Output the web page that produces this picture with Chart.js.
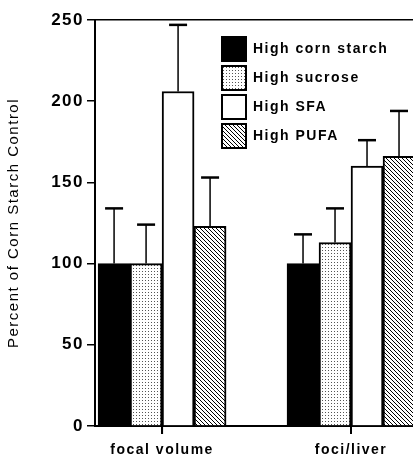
<!DOCTYPE html>
<html>
<head>
<meta charset="utf-8">
<script src="https://cdn.jsdelivr.net/npm/chart.js@4.4.1/dist/chart.umd.min.js"></script>
<style>
  html, body { margin: 0; padding: 0; background: #fff; overflow: hidden; }
</style>
</head>
<body>
<canvas id="dietChart" width="413" height="456"></canvas>
<script>
// === Data ===
const categories = ["focal volume", "foci/liver"];
const seriesNames = ["High corn starch", "High sucrose", "High SFA", "High PUFA"];

const cornStarch = [100, 100];
const cornStarchErr = [34, 18];
const sucrose = [100, 113];
const sucroseErr = [24, 21];
const sfa = [206, 160];
const sfaErr = [41, 16];
const pufa = [123, 166];
const pufaErr = [30, 28];

const yTicks = [0, 50, 100, 150, 200, 250];

// === Fill patterns ===
function dotPattern() {
  const c = document.createElement("canvas");
  c.width = 3; c.height = 3;
  const g = c.getContext("2d");
  g.fillStyle = "#fff";
  g.fillRect(0, 0, 3, 3);
  g.fillStyle = "#555";
  g.fillRect(1, 1, 1, 1);
  return g.createPattern(c, "repeat");
}

function hatchPattern() {
  const c = document.createElement("canvas");
  c.width = 4; c.height = 4;
  const g = c.getContext("2d");
  g.fillStyle = "#fff";
  g.fillRect(0, 0, 4, 4);
  g.strokeStyle = "#000";
  g.lineWidth = 1;
  g.beginPath();
  g.moveTo(-1, -1); g.lineTo(5, 5);
  g.moveTo(-1, 3); g.lineTo(1, 5);
  g.moveTo(3, -1); g.lineTo(5, 1);
  g.stroke();
  return g.createPattern(c, "repeat");
}

const toPoints = arr => arr.map((v, i) => ({ x: i, y: v }));

// === Plugins ===
// wide tracking like the original typesetting
const tracking = {
  id: "tracking",
  beforeLayout(chart) { chart.ctx.letterSpacing = "1.5px"; },
  beforeDraw(chart) { chart.ctx.letterSpacing = "1.5px"; }
};

// move the legend into the upper right of the plot
const legendSpot = {
  id: "legendSpot",
  afterLayout(chart) {
    const lg = chart.legend;
    if (!lg) return;
    const area = chart.chartArea;
    lg.left = area.left + 122;
    lg.top = area.top + 12;
    lg.bottom = area.bottom;
  }
};

// upper error bars, plus the category tick marks below the x axis
const errorBars = {
  id: "errorBars",
  afterDatasetsDraw(chart) {
    const ctx = chart.ctx;
    const yScale = chart.scales.y;
    const xScale = chart.scales.x;
    ctx.save();
    ctx.strokeStyle = "#000";
    chart.data.datasets.forEach((ds, i) => {
      const meta = chart.getDatasetMeta(i);
      meta.data.forEach((bar, j) => {
        const top = yScale.getPixelForValue(ds.data[j].y + ds.errors[j]);
        ctx.lineWidth = 1.5;
        ctx.beginPath();
        ctx.moveTo(bar.x, bar.y);
        ctx.lineTo(bar.x, top);
        ctx.stroke();
        ctx.lineWidth = 2.5;
        ctx.beginPath();
        ctx.moveTo(bar.x - 9, top);
        ctx.lineTo(bar.x + 9, top);
        ctx.stroke();
      });
    });
    ctx.lineWidth = 2;
    xScale.ticks.forEach((t, i) => {
      const px = xScale.getPixelForTick(i);
      ctx.beginPath();
      ctx.moveTo(px, xScale.top);
      ctx.lineTo(px, xScale.top + 8);
      ctx.stroke();
    });
    ctx.restore();
  }
};

Chart.defaults.font.family = "'Liberation Sans', Arial, sans-serif";
Chart.defaults.color = "#000";

const xMin = -0.355;
const xMax = 1.328;

const ctx = document.getElementById("dietChart").getContext("2d");
const chart = new Chart(ctx, {
  type: "bar",
  data: {
    datasets: [
      { label: seriesNames[0], data: toPoints(cornStarch), errors: cornStarchErr, backgroundColor: "#000" },
      { label: seriesNames[1], data: toPoints(sucrose), errors: sucroseErr, backgroundColor: dotPattern() },
      { label: seriesNames[2], data: toPoints(sfa), errors: sfaErr, backgroundColor: "#fff" },
      { label: seriesNames[3], data: toPoints(pufa), errors: pufaErr, backgroundColor: hatchPattern() }
    ]
  },
  options: {
    responsive: false,
    animation: false,
    layout: { padding: { top: 20, left: 0, right: 0, bottom: 0 } },
    datasets: {
      bar: { barThickness: 32, borderColor: "#000", borderWidth: 2 }
    },
    plugins: {
      tooltip: { enabled: false },
      legend: {
        position: "chartArea",
        align: "start",
        labels: {
          boxWidth: 24,
          boxHeight: 24,
          padding: 5,
          color: "#000",
          font: { size: 14, weight: "bold" }
        }
      }
    },
    scales: {
      x: {
        type: "linear",
        offset: false,
        min: xMin,
        max: xMax,
        afterBuildTicks: axis => { axis.ticks = categories.map((c, i) => ({ value: i })); },
        afterFit: axis => { axis.height = 30; },
        ticks: {
          callback: v => categories[v],
          autoSkip: false,
          maxRotation: 0,
          padding: 8,
          font: { size: 14, weight: "bold" }
        },
        grid: { offset: false, drawOnChartArea: false, drawTicks: true, tickLength: 8, color: "#000", tickColor: "#000", tickWidth: 2, lineWidth: 2 },
        border: { color: "#000", width: 2 }
      },
      x2: {
        type: "linear",
        position: "top",
        offset: false,
        min: xMin,
        max: xMax,
        ticks: { display: false },
        grid: { display: false, drawTicks: false },
        border: { display: true, color: "#000", width: 1.5 }
      },
      y: {
        min: 0,
        max: 250,
        afterBuildTicks: axis => { axis.ticks = yTicks.map(v => ({ value: v })); },
        afterFit: axis => { axis.width = 95; },
        ticks: { padding: 3, font: { size: 17, weight: "bold" } },
        grid: { drawOnChartArea: false, tickLength: 8, color: "#000", lineWidth: 1.5 },
        border: { color: "#000", width: 2 },
        title: {
          display: true,
          text: "Percent of Corn Starch Control",
          color: "#000",
          font: { size: 15 },
          padding: { top: 5, bottom: 0 }
        }
      }
    }
  },
  plugins: [tracking, legendSpot, errorBars]
});
</script>
</body>
</html>
